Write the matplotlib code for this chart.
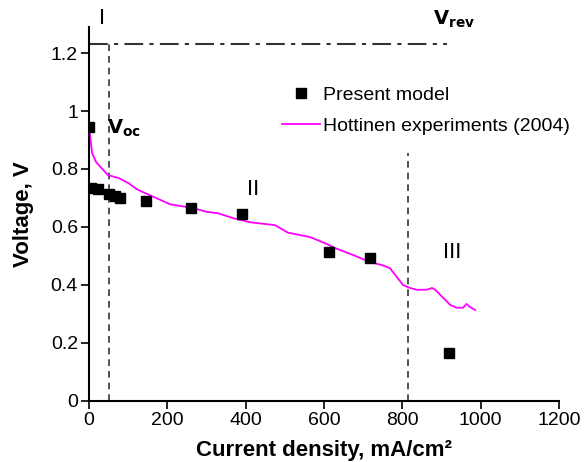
import numpy as np
import matplotlib
matplotlib.use("Agg")
import matplotlib.pyplot as plt
from matplotlib.ticker import FuncFormatter

plt.rcParams['font.family'] = ['Liberation Sans', 'DejaVu Sans']

# Present model (squares)
model_j = [0, 5, 23, 51, 67, 80, 146, 260, 391, 613, 717, 919]
model_v = [0.945, 0.735, 0.73, 0.713, 0.706, 0.70, 0.688, 0.664, 0.645, 0.513, 0.493, 0.165]

# Hottinen experiments (2004)
exp_j = [2, 8, 18, 36, 48, 77, 102, 122, 138, 171, 207, 266, 300, 330, 368, 411,
         475, 508, 564, 602, 628, 674, 717, 748, 768, 786, 802, 820, 837, 862,
         876, 884, 922, 938, 955, 964, 972, 986]
exp_v = [0.924, 0.855, 0.824, 0.797, 0.779, 0.768, 0.75, 0.73, 0.72, 0.70, 0.678,
         0.665, 0.652, 0.647, 0.630, 0.616, 0.606, 0.580, 0.565, 0.544, 0.527,
         0.503, 0.479, 0.468, 0.458, 0.427, 0.399, 0.389, 0.383, 0.383, 0.389,
         0.383, 0.331, 0.321, 0.321, 0.334, 0.324, 0.313]

v_rev = 1.23
j_rev_end = 915
j_region1 = 50
j_region3 = 815

xticks = [0, 200, 400, 600, 800, 1000, 1200]
yticks = [0, 0.2, 0.4, 0.6, 0.8, 1.0, 1.2]

fig = plt.figure(figsize=(5.87, 4.62), dpi=100)
ax = fig.add_axes([89 / 587, 1 - 400.7 / 462, 470 / 587, 373.7 / 462])

ax.plot([0, j_rev_end], [v_rev, v_rev], color='#333333', lw=1.5,
        dashes=(9, 3, 2, 3), zorder=1)
ax.plot([j_region1, j_region1], [0, v_rev], color='#333333', lw=1.2,
        dashes=(4, 3), zorder=1)
ax.plot([j_region3, j_region3], [0, 0.855], color='#333333', lw=1.2,
        dashes=(4, 3), zorder=1)

ax.plot(model_j, model_v, 's', color='black', markersize=7, ls='none',
        label='Present model', zorder=3)
ax.plot(exp_j, exp_v, color='#FF00FF', lw=1.3,
        label='Hottinen experiments (2004)', zorder=2)

ax.set_xlim(0, 1200)
ax.set_ylim(0, 1.29)
ax.set_xticks(xticks)
ax.set_yticks(yticks)
ax.yaxis.set_major_formatter(FuncFormatter(lambda v, p: '%g' % v))
ax.tick_params(direction='out', length=6, width=1.2, labelsize=14, pad=2)
for s in ['top', 'right']:
    ax.spines[s].set_visible(False)
for s in ['left', 'bottom']:
    ax.spines[s].set_linewidth(1.5)

ax.set_xlabel('Current density, mA/cm²', fontsize=16, fontweight='bold', labelpad=8)
ax.set_ylabel('Voltage, V', fontsize=16, fontweight='bold', labelpad=12)

ax.text(33, 1.32, 'I', fontsize=16, ha='center', va='center', clip_on=False)
ax.text(46, 0.923, r'$\mathbf{V_{oc}}$', fontsize=14, ha='left', va='baseline')
ax.text(420, 0.73, 'II', fontsize=16, ha='center', va='center')
ax.text(927, 0.51, 'III', fontsize=16, ha='center', va='center')
ax.text(878, 1.297, r'$\mathbf{V_{rev}}$', fontsize=14, ha='left', va='baseline',
        clip_on=False)

ax.legend(loc='upper left', bbox_to_anchor=(282 / 587, 1 - 86 / 462),
          bbox_transform=fig.transFigure, frameon=False, fontsize=14,
          borderpad=0, borderaxespad=0, handlelength=1.96, handletextpad=0.15,
          labelspacing=0.72)

fig.savefig('out.png', dpi=100)
